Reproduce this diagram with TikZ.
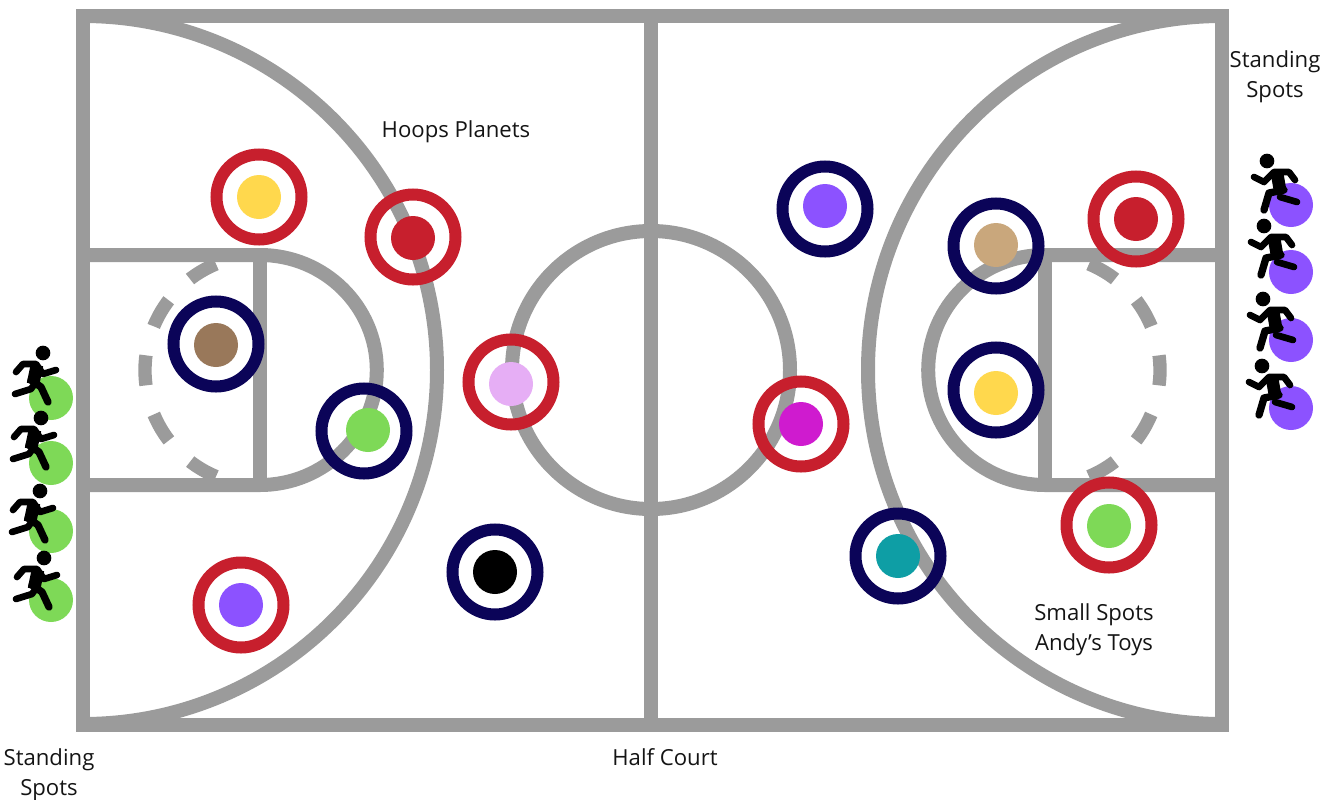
\documentclass[tikz,border=0pt]{standalone}
\usepackage{fontspec}
\setmainfont{Open Sans}
\definecolor{courtgray}{HTML}{9B9B9B}
\definecolor{ringnavy}{HTML}{0B0458}
\definecolor{ringred}{HTML}{C71F2D}
\definecolor{spotgreen}{HTML}{7ED957}
\definecolor{spotpurple}{HTML}{8C52FF}
\definecolor{spotyellow}{HTML}{FFD84D}
\definecolor{spotbrown}{HTML}{99785A}
\definecolor{spottan}{HTML}{C9A77C}
\definecolor{spotpink}{HTML}{E6AEF5}
\definecolor{spotmagenta}{HTML}{CF1BCF}
\definecolor{spotteal}{HTML}{0E9EA5}
\begin{document}
\begin{tikzpicture}[x=0.75pt,y=-0.75pt,every node/.style={font=\fontsize{16.6pt}{22.5pt}\selectfont,align=center,text=black!92}]
\tikzset{courtline/.style={draw=courtgray,line width=10.5pt},
  keydash/.style={courtline,line width=10pt,dash pattern=on 22.6pt off 22.6pt},
  redring/.style={circle,draw=ringred,line width=9pt,minimum size=63.75pt,inner sep=0pt},
  navyring/.style={circle,draw=ringnavy,line width=9pt,minimum size=63.75pt,inner sep=0pt},
  spot/.style={circle,fill=#1,minimum size=33pt,inner sep=0pt},
  pics/runnerleft/.style={code={
    \fill[black] (0,0) circle[radius=5.5pt];
    \draw[black,line width=5pt,line cap=round,line join=round] (-27,19)--(-20,11)--(-7,11)--(0,21)--(13,17);
    \draw[black,line width=9.5pt] (-6,12)--(-10,31);
    \draw[black,line width=5pt,line cap=round,line join=round] (-28,41)--(-12,36)--(-7,29);
    \draw[black,line width=5.5pt,line cap=round,line join=round] (-12,27)--(-2,34)--(5,49);}},
  pics/runnerright/.style={code={
    \fill[black] (0,0) circle[radius=5.5pt];
    \draw[black,line width=5pt,line cap=round,line join=round] (-13,16)--(-3,21)--(7,11)--(22,11)--(28,19);
    \draw[black,line width=9.5pt] (10,12)--(13,29);
    \draw[black,line width=5.5pt,line cap=round,line join=round] (-3,49)--(2,32)--(17,29);
    \draw[black,line width=5pt,line cap=round,line join=round] (13,36)--(30,41);}}}
\useasboundingbox (0,0) rectangle (1329,800);
% court
\draw[courtline] (83,16) rectangle (1222,725);
\draw[courtline] (651,16)--(651,725);
\draw[courtline] (651,370) circle[radius=104.25pt];
\draw[courtline] (83,16) arc[start angle=90,end angle=-90,radius=265.5pt];
\draw[courtline] (1222,16) arc[start angle=90,end angle=270,radius=265.5pt];
\draw[courtline] (83,255)--(260,255) arc[start angle=90,end angle=-90,x radius=87.6pt,y radius=86.25pt]--(83,485);
\draw[courtline] (260,255)--(260,485);
\draw[courtline] (1222,255)--(1045,255) arc[start angle=90,end angle=270,x radius=87.6pt,y radius=86.25pt]--(1222,485);
\draw[courtline] (1045,255)--(1045,485);
\draw[keydash] (216,264) arc[start angle=112.5,end angle=247.5,radius=86.25pt];
\draw[keydash] (1089,264) arc[start angle=67.5,end angle=-67.5,radius=86.25pt];
% left spots and runners
\node[spot=spotgreen] (leftspota) at (51,398) {};
\node[spot=spotgreen] (leftspotb) at (51,463) {};
\node[spot=spotgreen] (leftspotc) at (51,531) {};
\node[spot=spotgreen] (leftspotd) at (51,600) {};
\pic at (43,353) {runnerleft};
\pic at (41,418) {runnerleft};
\pic at (40,491) {runnerleft};
\pic at (44,558) {runnerleft};
% right spots and runners
\node[spot=spotpurple] (rightspota) at (1291,205) {};
\node[spot=spotpurple] (rightspotb) at (1291,272) {};
\node[spot=spotpurple] (rightspotc) at (1291,340) {};
\node[spot=spotpurple] (rightspotd) at (1291,408) {};
\pic at (1267,161) {runnerright};
\pic at (1264,226) {runnerright};
\pic at (1263,299) {runnerright};
\pic at (1262,366) {runnerright};
% planets on the left half
\node[redring] (ringyellow) at (259,197) {};
\node[spot=spotyellow] (dotyellow) at (259,197) {};
\node[redring] (ringred) at (413,237) {};
\node[spot=ringred] (dotred) at (413,238) {};
\node[navyring] (ringbrown) at (216,344) {};
\node[spot=spotbrown] (dotbrown) at (216,345) {};
\node[navyring] (ringgreen) at (364,431) {};
\node[spot=spotgreen] (dotgreen) at (368,430) {};
\node[redring] (ringpink) at (511,382) {};
\node[spot=spotpink] (dotpink) at (511,384) {};
\node[navyring] (ringblack) at (495,572) {};
\node[spot=black] (dotblack) at (495,572) {};
\node[redring] (ringpurple) at (241,605) {};
\node[spot=spotpurple] (dotpurple) at (241,605) {};
% planets on the right half
\node[navyring] (ringviolet) at (825,209) {};
\node[spot=spotpurple] (dotviolet) at (825,206) {};
\node[navyring] (ringtan) at (996,246) {};
\node[spot=spottan] (dottan) at (996,245) {};
\node[navyring] (ringgold) at (996,390) {};
\node[spot=spotyellow] (dotgold) at (996,393) {};
\node[redring] (ringmagenta) at (801,424) {};
\node[spot=spotmagenta] (dotmagenta) at (801,424) {};
\node[navyring] (ringteal) at (898,556) {};
\node[spot=spotteal] (dotteal) at (898,556) {};
\node[redring] (ringcrimson) at (1136,219) {};
\node[spot=ringred] (dotcrimson) at (1136,219) {};
\node[redring] (ringlime) at (1109,525) {};
\node[spot=spotgreen] (dotlime) at (1109,526) {};
% labels
\node (hoops) at (456,132) {Hoops Planets};
\node (standright) at (1275,76.5) {Standing\\Spots};
\node (standleft) at (49,775) {Standing\\Spots};
\node (halfcourt) at (665,757) {Half Court};
\node (smallspots) at (1094,630) {Small Spots\\Andy’s Toys};
\end{tikzpicture}
\end{document}
